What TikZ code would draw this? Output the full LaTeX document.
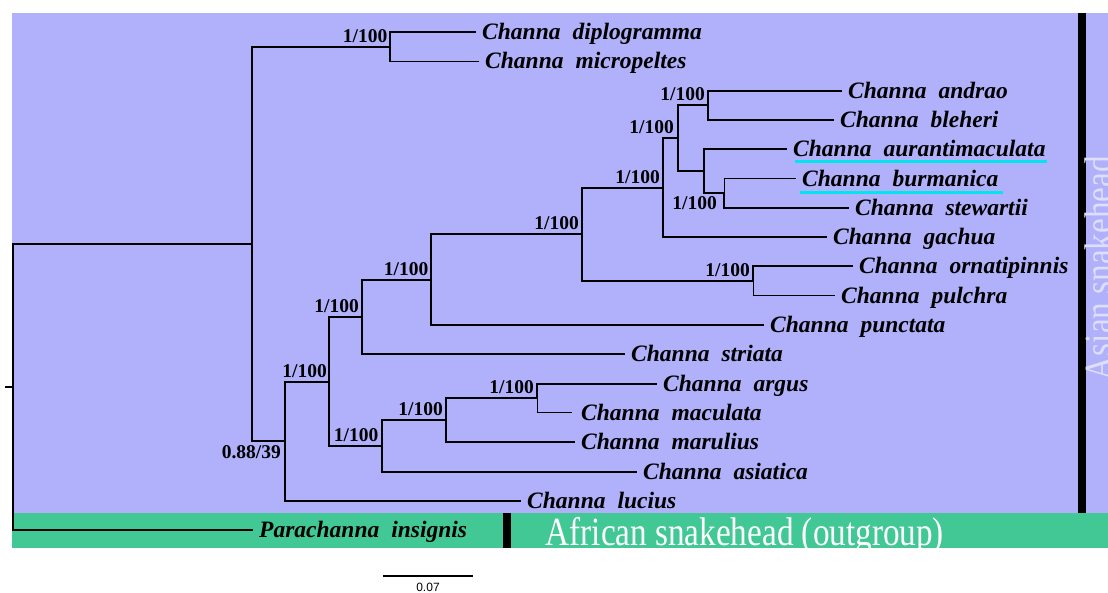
\documentclass[tikz,border=0pt]{standalone}
\usepackage{fontspec}
\setmainfont{Liberation Serif}
\setsansfont{Liberation Sans}
\newfontfamily\grpfont[FakeStretch=0.83]{Liberation Serif}
\usetikzlibrary{calc}
\definecolor{purpbg}{RGB}{177,177,251}
\definecolor{greenbg}{RGB}{65,200,149}
\definecolor{cyanul}{RGB}{0,229,238}
\definecolor{asiantxt}{RGB}{222,222,255}
\newcommand\spname[2]{#1\hspace{12pt}#2}
\begin{document}
\begin{tikzpicture}[x=1pt,y=-1pt,
  br/.style={line width=2pt, line cap=rect},
  brthin/.style={line width=1pt, line cap=rect},
  brmid/.style={line width=1.4pt, line cap=rect},
  tip/.style={anchor=west, inner xsep=7pt, inner ysep=0pt, text height=18pt, text depth=3pt,
    font=\bfseries\itshape\fontsize{23.5}{24}\selectfont},
  lab/.style={anchor=base east, inner sep=0pt, font=\bfseries\fontsize{19.5}{20}\selectfont},
  grp/.style={inner sep=0pt, font=\grpfont\fontsize{40}{40}\selectfont},
  uline/.style={line width=2.7pt, draw=cyanul}]
\useasboundingbox (0,0) rectangle (1108,592);
\fill[white] (0,0) rectangle (1108,592);
% backgrounds
\fill[purpbg] (12,13) rectangle (1108,513);
\fill[greenbg] (12,513) rectangle (1108,547.5);
\fill[black] (1078,13) rectangle (1085.5,513);
\fill[black] (503,513) rectangle (510.5,547.5);
\node[grp, anchor=base west, text=white] (afr) at (545.5,545) {African snakehead (outgroup)};
\begin{scope}
\clip (0,0) rectangle (1108,592);
\node[grp, rotate=90, anchor=base, text=asiantxt] (asia) at (1112,268) {Asian snakehead};
\end{scope}
% internal nodes
\coordinate (R) at (13,387);
\coordinate (A) at (252,243.9);
\coordinate (G) at (390,46.6);
\coordinate (B) at (285,441.1);
\coordinate (C) at (329,381.5);
\coordinate (H) at (362,317);
\coordinate (I) at (431,279.7);
\coordinate (J) at (582,234.3);
\coordinate (L) at (663,187.7);
\coordinate (M) at (678,138.2);
\coordinate (N) at (708,105.3);
\coordinate (O) at (704,171.2);
\coordinate (P) at (724,193.2);
\coordinate (K) at (753,281);
\coordinate (D) at (381.5,445.9);
\coordinate (E) at (446,420.2);
\coordinate (F) at (537,398.3);
% tips
\node[tip] (t0) at (475,32.0) {\spname{Channa}{diplogramma}};
\node[tip] (t1) at (478,61.3) {\spname{Channa}{micropeltes}};
\node[tip] (t2) at (841,90.6) {\spname{Channa}{andrao}};
\node[tip] (t3) at (833,119.9) {\spname{Channa}{bleheri}};
\node[tip] (t4) at (786,149.2) {\spname{Channa}{aurantimaculata}};
\node[tip] (t5) at (795,178.5) {\spname{Channa}{burmanica}};
\node[tip] (t6) at (848,207.8) {\spname{Channa}{stewartii}};
\node[tip] (t7) at (826,237.1) {\spname{Channa}{gachua}};
\node[tip] (t8) at (852,266.4) {\spname{Channa}{ornatipinnis}};
\node[tip] (t9) at (834,295.7) {\spname{Channa}{pulchra}};
\node[tip] (t10) at (763,325.0) {\spname{Channa}{punctata}};
\node[tip] (t11) at (624,354.3) {\spname{Channa}{striata}};
\node[tip] (t12) at (656,383.6) {\spname{Channa}{argus}};
\node[tip, inner xsep=10pt] (t13) at (571,412.9) {\spname{Channa}{maculata}};
\node[tip] (t14) at (574,442.2) {\spname{Channa}{marulius}};
\node[tip] (t15) at (636,471.5) {\spname{Channa}{asiatica}};
\node[tip] (t16) at (520,500.8) {\spname{Channa}{lucius}};
\node[tip] (t17) at (252,530.1) {\spname{Parachanna}{insignis}};
% underlines
\draw[uline] ($(t4.west)+(9,12)$) -- ($(t4.east)+(-6,12)$);
\draw[uline] ($(t5.west)+(5,14)$) -- ($(t5.east)+(-3,14)$);
% branches
\draw[br] (R) |- (A);
\draw[br] (R) |- (t17.west);
\draw[line width=2pt] (R) -- ++(-8,0);
\draw[br] (A) |- (G);
\draw[br] (A) |- (B);
\draw[br] (G) |- (t0.west);
\draw[brmid] (G) |- (t1.west);
\draw[br] (B) |- (C);
\draw[br] (B) |- (t16.west);
\draw[br] (C) |- (H);
\draw[br] (C) |- (D);
\draw[br] (H) |- (I);
\draw[br] (H) |- (t11.west);
\draw[br] (I) |- (J);
\draw[br] (I) |- (t10.west);
\draw[br] (J) |- (L);
\draw[br] (J) |- (K);
\draw[br] (L) |- (M);
\draw[br] (L) |- (t7.west);
\draw[br] (M) |- (N);
\draw[br] (M) |- (O);
\draw[br] (N) |- (t2.west);
\draw[br] (N) |- (t3.west);
\draw[br] (O) |- (t4.west);
\draw[br] (O) |- (P);
\draw[brthin] (P) |- (t5.west);
\draw[br] (P) |- (t6.west);
\draw[br] (K) |- (t8.west);
\draw[brthin] (K) |- (t9.west);
\draw[br] (D) |- (E);
\draw[br] (D) |- (t15.west);
\draw[br] (E) |- (F);
\draw[br] (E) |- (t14.west);
\draw[br] (F) |- (t12.west);
\draw[brthin] (F) |- (t13.west);
% support labels
\node[lab] (lG) at ($(G)+(-2.5,-4.5)$) {1/100};
\node[lab] (lC) at ($(C)+(-2,-4.5)$) {1/100};
\node[lab] (lH) at ($(H)+(-3,-4.5)$) {1/100};
\node[lab] (lI) at ($(I)+(-2.5,-4.5)$) {1/100};
\node[lab] (lJ) at ($(J)+(-3,-4.5)$) {1/100};
\node[lab] (lL) at ($(L)+(-3,-4.5)$) {1/100};
\node[lab] (lM) at ($(M)+(-4,-4.5)$) {1/100};
\node[lab] (lN) at ($(N)+(-3,-4.5)$) {1/100};
\node[lab] (lK) at ($(K)+(-3,-4.5)$) {1/100};
\node[lab] (lD) at ($(D)+(-3,-4.5)$) {1/100};
\node[lab] (lE) at ($(E)+(-3,-4.5)$) {1/100};
\node[lab] (lF) at ($(F)+(-3,-4.5)$) {1/100};
\node[lab] (lP) at ($(P)+(-7,16)$) {1/100};
\node[lab] (lB) at ($(B)+(-4,17)$) {0.88/39};
% scale bar
\coordinate (s1) at (382.5,575.7);
\coordinate (s2) at (473.3,575.7);
\draw[line width=1.8pt] (s1) -- (s2);
\node[anchor=base, inner sep=0pt, font=\sffamily\fontsize{12}{12}\selectfont] (sl) at (428,591) {0.07};
\end{tikzpicture}
\end{document}
